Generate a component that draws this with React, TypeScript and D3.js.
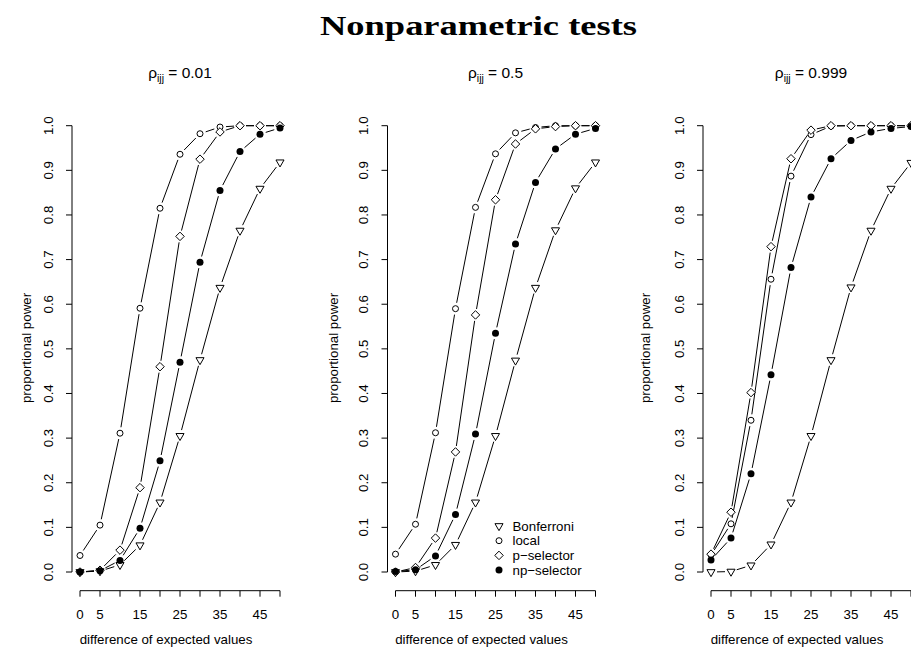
import React from "react";
import * as d3 from "d3";

// ---------- data ----------
const DIFFS = [0, 5, 10, 15, 20, 25, 30, 35, 40, 45, 50];
const X_TICKS = [0, 5, 10, 15, 20, 25, 30, 35, 40, 45, 50];
const X_TICK_LABELS = ["0", "5", "", "15", "", "25", "", "35", "", "45", ""];
const Y_TICKS = [0, 0.1, 0.2, 0.3, 0.4, 0.5, 0.6, 0.7, 0.8, 0.9, 1.0];
const RHO_VALUES = ["0.01", "0.5", "0.999"];
const SERIES_NAMES = ["Bonferroni", "local", "p\u2212selector", "np\u2212selector"];

// rho = 0.01
const P1_BONFERRONI = [0.0, 0.002, 0.016, 0.06, 0.156, 0.305, 0.475, 0.637, 0.765, 0.859, 0.918];
const P1_LOCAL = [0.037, 0.105, 0.311, 0.591, 0.815, 0.936, 0.982, 0.997, 1.0, 1.0, 1.0];
const P1_PSEL = [0.0, 0.004, 0.049, 0.189, 0.46, 0.752, 0.925, 0.986, 1.0, 1.0, 1.0];
const P1_NPSEL = [0.0, 0.003, 0.026, 0.098, 0.249, 0.47, 0.694, 0.855, 0.942, 0.981, 0.995];

// rho = 0.5
const P2_BONFERRONI = [0.0, 0.002, 0.016, 0.061, 0.156, 0.305, 0.474, 0.637, 0.766, 0.86, 0.918];
const P2_LOCAL = [0.04, 0.107, 0.312, 0.59, 0.817, 0.937, 0.984, 0.996, 1.0, 1.0, 1.0];
const P2_PSEL = [0.0, 0.01, 0.076, 0.269, 0.576, 0.834, 0.959, 0.993, 0.998, 1.0, 1.0];
const P2_NPSEL = [0.001, 0.005, 0.036, 0.129, 0.309, 0.535, 0.735, 0.873, 0.948, 0.981, 0.994];

// rho = 0.999
const P3_BONFERRONI = [0.0, 0.001, 0.015, 0.062, 0.156, 0.305, 0.475, 0.638, 0.765, 0.859, 0.917];
const P3_LOCAL = [0.038, 0.108, 0.34, 0.656, 0.887, 0.98, 0.999, 1.0, 1.0, 1.0, 1.0];
const P3_PSEL = [0.04, 0.134, 0.402, 0.729, 0.926, 0.99, 1.0, 1.0, 1.0, 1.0, 1.0];
const P3_NPSEL = [0.027, 0.076, 0.22, 0.442, 0.682, 0.84, 0.926, 0.967, 0.986, 0.994, 0.998];

const PANELS = [
  [P1_BONFERRONI, P1_LOCAL, P1_PSEL, P1_NPSEL],
  [P2_BONFERRONI, P2_LOCAL, P2_PSEL, P2_NPSEL],
  [P3_BONFERRONI, P3_LOCAL, P3_PSEL, P3_NPSEL],
];

// ---------- layout ----------
const W = 911;
const H = 654;
const PANEL_X0 = [80, 395.5, 711];
const YLAB_X = [26.7, 333.5, 645];
const FONT = "'Liberation Sans', Arial, Helvetica, sans-serif";
const FS = 13.3;
const GAP = 6;
const SHAPES = ["tri", "circle", "diamond", "dot"];

const yScale = d3.scaleLinear().domain([0, 1]).range([572, 125.7]);

function Marker({ shape, x, y }: { shape: string; x: number; y: number }) {
  const s = 3;
  if (shape === "circle")
    return <circle cx={x} cy={y} r={s} fill="white" stroke="black" strokeWidth={1} />;
  if (shape === "dot") return <circle cx={x} cy={y} r={3.5} fill="black" />;
  if (shape === "diamond") {
    const d = Math.SQRT2 * s;
    return (
      <path
        d={`M${x},${y - d}L${x + d},${y}L${x},${y + d}L${x - d},${y}Z`}
        fill="white"
        stroke="black"
        strokeWidth={1}
      />
    );
  }
  const r = 1.5551 * s;
  const xc = 1.3468 * s;
  const yc = 0.7776 * s;
  return (
    <path
      d={`M${x},${y + r}L${x + xc},${y - yc}L${x - xc},${y - yc}Z`}
      fill="white"
      stroke="black"
      strokeWidth={1}
    />
  );
}

function gapSegments(pts: [number, number][]) {
  const segs: [number, number, number, number][] = [];
  for (let i = 0; i < pts.length - 1; i++) {
    const [x0, y0] = pts[i];
    const [x1, y1] = pts[i + 1];
    const dx = x1 - x0;
    const dy = y1 - y0;
    const len = Math.sqrt(dx * dx + dy * dy);
    if (len <= 2 * GAP) continue;
    const ux = dx / len;
    const uy = dy / len;
    segs.push([x0 + ux * GAP, y0 + uy * GAP, x1 - ux * GAP, y1 - uy * GAP]);
  }
  return segs;
}

function Panel({ idx }: { idx: number }) {
  const x0 = PANEL_X0[idx];
  const xScale = d3.scaleLinear().domain([0, 50]).range([x0, x0 + 200]);
  const axisX = x0 - 8;
  const series = PANELS[idx];
  const center = x0 + 100;
  const axisY = 590.7;
  return (
    <g>
      {/* panel title */}
      <text x={center} y={78} textAnchor="middle" fontFamily={FONT} fontSize={15.5} fill="black">
        {"\u03c1"}
        <tspan fontSize={10.5} dy={3.5}>ijj</tspan>
        <tspan dy={-3.5}>{` = ${RHO_VALUES[idx]}`}</tspan>
      </text>

      {/* y axis */}
      <line x1={axisX} x2={axisX} y1={yScale(0)} y2={yScale(1)} stroke="black" strokeWidth={1} />
      {Y_TICKS.map((t) => (
        <g key={t}>
          <line x1={axisX - 6} x2={axisX} y1={yScale(t)} y2={yScale(t)} stroke="black" strokeWidth={1} />
          <text
            transform={`translate(${axisX - 24},${yScale(t)}) rotate(-90)`}
            textAnchor="middle"
            dy="0.36em"
            fontFamily={FONT}
            fontSize={FS}
          >
            {t.toFixed(1)}
          </text>
        </g>
      ))}
      <text
        transform={`translate(${YLAB_X[idx]},348) rotate(-90)`}
        textAnchor="middle"
        dy="0.36em"
        fontFamily={FONT}
        fontSize={FS}
      >
        proportional power
      </text>

      {/* x axis */}
      <line x1={xScale(0)} x2={xScale(50)} y1={axisY} y2={axisY} stroke="black" strokeWidth={1} />
      {X_TICKS.map((t, i) => (
        <g key={t}>
          <line x1={xScale(t)} x2={xScale(t)} y1={axisY} y2={axisY + 6} stroke="black" strokeWidth={1} />
          {X_TICK_LABELS[i] !== "" && (
            <text x={xScale(t)} y={619} textAnchor="middle" fontFamily={FONT} fontSize={FS}>
              {X_TICK_LABELS[i]}
            </text>
          )}
        </g>
      ))}
      <text x={x0 + 86} y={644} textAnchor="middle" fontFamily={FONT} fontSize={FS}>
        difference of expected values
      </text>

      {/* series lines */}
      {series.map((vals, si) => {
        const pts = vals.map((v, i) => [xScale(DIFFS[i]), yScale(v)] as [number, number]);
        return (
          <g key={"l" + si}>
            {gapSegments(pts).map((s, k) => (
              <line key={k} x1={s[0]} y1={s[1]} x2={s[2]} y2={s[3]} stroke="black" strokeWidth={1} />
            ))}
          </g>
        );
      })}
      {/* series markers */}
      {series.map((vals, si) => (
        <g key={"m" + si}>
          {vals.map((v, i) => (
            <Marker key={i} shape={SHAPES[si]} x={xScale(DIFFS[i])} y={yScale(v)} />
          ))}
        </g>
      ))}

      {/* legend in middle panel */}
      {idx === 1 &&
        SERIES_NAMES.map((name, k) => {
          const ly = 526 + k * 14.7;
          return (
            <g key={name}>
              <Marker shape={SHAPES[k]} x={x0 + 103.5} y={ly} />
              <text x={x0 + 117} y={ly} dy="0.36em" fontFamily={FONT} fontSize={FS}>
                {name}
              </text>
            </g>
          );
        })}
    </g>
  );
}

export default function App() {
  return (
    <div style={{ position: "absolute", left: 0, top: 0, width: W, height: H, background: "white" }}>
      <svg width={W} height={H} viewBox={`0 0 ${W} ${H}`} style={{ display: "block" }}>
        <rect x={0} y={0} width={W} height={H} fill="white" />
        <text
          x={478.5}
          y={35}
          textAnchor="middle"
          fontFamily="'Liberation Serif', 'Times New Roman', serif"
          fontWeight="bold"
          fontSize={27}
          textLength={317}
          lengthAdjust="spacingAndGlyphs"
        >
          Nonparametric tests
        </text>
        {[0, 1, 2].map((i) => (
          <Panel key={i} idx={i} />
        ))}
      </svg>
    </div>
  );
}
